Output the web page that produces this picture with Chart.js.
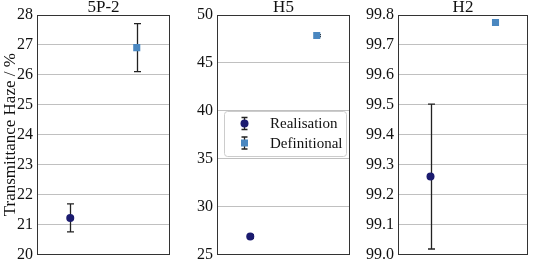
<!DOCTYPE html>
<html lang="en">
<head>
    <meta charset="UTF-8">
    <title>Transmittance Haze</title>
    <script src="https://cdn.jsdelivr.net/npm/chart.js"></script>
    <style>
        body { margin: 0; background: #fff; }
        #wrap { position: relative; width: 533px; height: 260px; overflow: hidden; }
        canvas { position: absolute; top: 0; }
    </style>
</head>
<body>
    <div id="wrap">
        <canvas id="panel0" width="175" height="268" style="left:0px"></canvas>
        <canvas id="panel1" width="173" height="268" style="left:182px"></canvas>
        <canvas id="panel2" width="171" height="268" style="left:362px"></canvas>
    </div>

    <script>
        // data
        const panelTitles = ['5P-2', 'H5', 'H2'];
        const seriesNames = ['Realisation', 'Definitional'];
        const categoryX = [0, 1];
        const realisationValues = [21.22, 26.87, 99.26];
        const realisationErrors = [0.47, 0.2, 0.242];
        const definitionalValues = [26.91, 47.85, 99.775];
        const definitionalErrors = [0.8, 0.1, 0.0];
        const yMins = [20, 25, 99.0];
        const yMaxs = [28, 50, 99.8];
        const ySteps = [1, 5, 0.1];
        const yDecimals = [0, 0, 1];

        const FONT = "'Liberation Serif', 'Times New Roman', serif";
        const colRealisation = '#1b1b6f';
        const colDefinitional = '#4a87c0';

        // layout of each panel: width of the y axis box and right padding
        const axisWidths = [37, 35, 36];
        const rightPads = [3, 3, 1];

        // error bars, drawn under the markers
        const errorBarPlugin = {
            id: 'errorBars',
            beforeDatasetsDraw(chart) {
                const ctx = chart.ctx;
                const ys = chart.scales.y;
                ctx.save();
                ctx.strokeStyle = '#222';
                ctx.lineWidth = 1.3;
                chart.data.datasets.forEach((ds, i) => {
                    const meta = chart.getDatasetMeta(i);
                    meta.data.forEach((pt, j) => {
                        const v = ds.data[j].y, e = ds.errors[j];
                        if (!e) return;
                        const x = Math.round(pt.x) + 0.5;
                        const y1 = ys.getPixelForValue(v - e);
                        const y2 = ys.getPixelForValue(v + e);
                        ctx.beginPath();
                        ctx.moveTo(x, y1); ctx.lineTo(x, y2);
                        ctx.moveTo(x - 3.5, y1); ctx.lineTo(x + 3.5, y1);
                        ctx.moveTo(x - 3.5, y2); ctx.lineTo(x + 3.5, y2);
                        ctx.stroke();
                    });
                });
                ctx.restore();
            }
        };

        // frame round the plot area and the panel title
        const framePlugin = {
            id: 'frame',
            afterDraw(chart, args, opts) {
                const ctx = chart.ctx;
                const a = chart.chartArea;
                ctx.save();
                ctx.strokeStyle = '#333';
                ctx.lineWidth = 1;
                ctx.strokeRect(Math.round(a.left) + 0.5, Math.round(a.top) + 0.5,
                    Math.round(a.right - a.left) - 1, Math.round(a.bottom - a.top));
                ctx.fillStyle = '#111';
                ctx.font = '17px ' + FONT;
                ctx.textAlign = 'center';
                ctx.textBaseline = 'alphabetic';
                ctx.fillText(opts.text, (a.left + a.right) / 2, 12);
                ctx.restore();
            }
        };

        // legend placed inside the middle panel
        const innerLegendPlugin = {
            id: 'innerLegend',
            afterDraw(chart, args, opts) {
                if (!opts.show) return;
                const ctx = chart.ctx;
                const a = chart.chartArea;
                const bx = a.left + 7, by = 111, bw = 122, bh = 45;
                ctx.save();
                ctx.fillStyle = 'rgba(255,255,255,0.85)';
                ctx.strokeStyle = '#cccccc';
                ctx.lineWidth = 1;
                ctx.beginPath();
                ctx.roundRect(bx + 0.5, by + 0.5, bw, bh, 3);
                ctx.fill();
                ctx.stroke();
                ctx.font = '15px ' + FONT;
                ctx.textBaseline = 'middle';
                ctx.textAlign = 'left';
                chart.data.datasets.forEach((ds, i) => {
                    const cy = by + 12.5 + i * 19.5;
                    const mx = bx + 20.5;
                    ctx.strokeStyle = '#222';
                    ctx.lineWidth = 1.3;
                    ctx.beginPath();
                    ctx.moveTo(mx, cy - 6); ctx.lineTo(mx, cy + 6);
                    ctx.moveTo(mx - 3, cy - 6); ctx.lineTo(mx + 3, cy - 6);
                    ctx.moveTo(mx - 3, cy + 6); ctx.lineTo(mx + 3, cy + 6);
                    ctx.stroke();
                    ctx.fillStyle = ds.backgroundColor;
                    if (ds.pointStyle === 'circle') {
                        ctx.beginPath();
                        ctx.arc(mx, cy, 4, 0, Math.PI * 2);
                        ctx.fill();
                    } else {
                        ctx.fillRect(mx - 3.5, cy - 3.5, 7, 7);
                    }
                    ctx.fillStyle = '#111';
                    ctx.fillText(ds.label, bx + 46, cy + 1);
                });
                ctx.restore();
            }
        };

        panelTitles.forEach((title, p) => {
            new Chart(document.getElementById('panel' + p), {
                type: 'scatter',
                data: {
                    datasets: [
                        {
                            label: seriesNames[0],
                            data: [{ x: categoryX[0], y: realisationValues[p] }],
                            errors: [realisationErrors[p]],
                            backgroundColor: colRealisation,
                            borderWidth: 0,
                            pointStyle: 'circle',
                            pointRadius: 4
                        },
                        {
                            label: seriesNames[1],
                            data: [{ x: categoryX[1], y: definitionalValues[p] }],
                            errors: [definitionalErrors[p]],
                            backgroundColor: colDefinitional,
                            borderWidth: 0,
                            pointStyle: 'rect',
                            pointRadius: 5
                        }
                    ]
                },
                options: {
                    responsive: false,
                    animation: false,
                    devicePixelRatio: 1,
                    events: [],
                    layout: { padding: { top: 15, bottom: 5, left: 0, right: rightPads[p] } },
                    scales: {
                        x: { type: 'linear', min: -0.5, max: 1.5, display: false },
                        y: {
                            min: yMins[p],
                            max: yMaxs[p],
                            afterFit: (s) => { s.width = axisWidths[p]; },
                            border: { display: false },
                            grid: { color: '#c0c0c0', drawTicks: false, lineWidth: 1 },
                            ticks: {
                                stepSize: ySteps[p],
                                padding: 4,
                                color: '#111',
                                font: { family: FONT, size: 16 },
                                callback: (v) => Number(v).toFixed(yDecimals[p])
                            },
                            title: {
                                display: p === 0,
                                text: 'Transmittance Haze / %',
                                color: '#111',
                                font: { family: FONT, size: 17 },
                                padding: { top: 0, bottom: 0 }
                            }
                        }
                    },
                    plugins: {
                        legend: { display: false },
                        tooltip: { enabled: false },
                        frame: { text: title },
                        innerLegend: { show: p === 1 }
                    }
                },
                plugins: [errorBarPlugin, framePlugin, innerLegendPlugin]
            });
        });
    </script>
</body>
</html>
